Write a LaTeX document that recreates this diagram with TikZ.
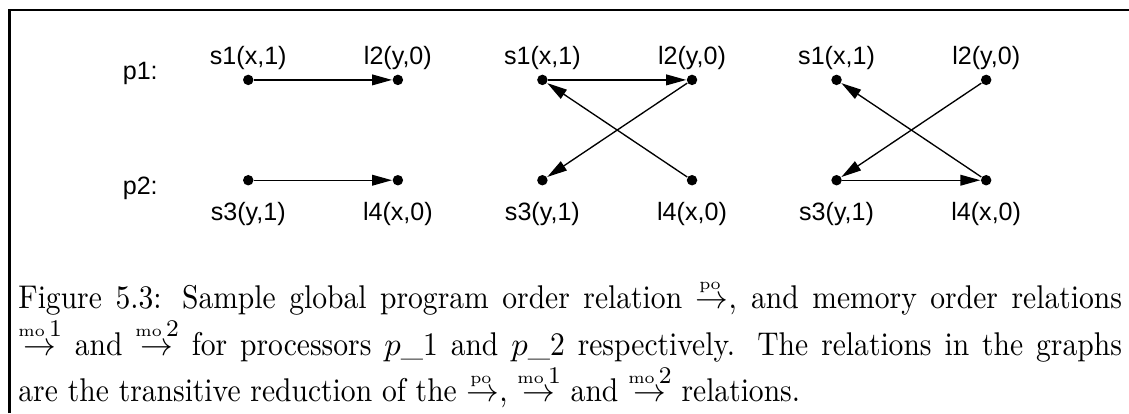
\documentclass[tikz,border=0pt]{standalone}
\usepackage{fontspec}
\usepackage{amsmath}
\newfontfamily\lblfont{Liberation Sans}
\newfontfamily\capfont[FakeStretch=0.9]{Latin Modern Roman}
\usetikzlibrary{arrows.meta}
\usetikzlibrary{positioning}

% order relation arrow with its name on top
\newcommand{\ordrel}[2]{\mathrel{\overset{\mathrm{\scriptscriptstyle #1}\,#2}{\rightarrow}}}

\tikzset{
  ev/.style={circle, fill=black, inner sep=0pt, minimum size=3.5pt},
  lbl/.style={font=\lblfont\fontsize{8.4}{10}\selectfont, inner sep=0pt},
  ord/.style={-{Triangle[length=6.7pt,width=3.6pt]}, line width=0.45pt},
}

\begin{document}
\begin{tikzpicture}
    \useasboundingbox (0,0) rectangle (13.28,-4.86);
    \draw[line width=0.7pt] (0.112,-4.86) -- (0.112,-0.118) -- (13.28,-0.118);

    \node[lbl] (p1) at (1.65,-0.87) {p1:};
    \node[lbl] (p2) at (1.65,-2.22) {p2:};

    % Events of the three graphs
    \foreach \g/\gx in {a/2.92, b/6.38, c/9.84} {
        \node[ev] (s1\g) at (\gx,-0.94) {};
        \node[ev] (l2\g) at (\gx+1.76,-0.94) {};
        \node[ev] (s3\g) at (\gx,-2.12) {};
        \node[ev] (l4\g) at (\gx+1.76,-2.12) {};
        \node[lbl, above=1.2pt of s1\g] (ts1\g) {s1(x,1)};
        \node[lbl, above=1.2pt of l2\g] (tl2\g) {l2(y,0)};
        \node[lbl, below=5.2pt of s3\g] (ts3\g) {s3(y,1)};
        \node[lbl, below=5.2pt of l4\g] (tl4\g) {l4(x,0)};
    }

    % Program order
    \draw[ord] (s1a) -- (l2a);
    \draw[ord] (s3a) -- (l4a);
    % Memory order, processor 1
    \draw[ord] (s1b) -- (l2b);
    \draw[ord] (l2b) -- (s3b);
    \draw[ord] (l4b) -- (s1b);
    % Memory order, processor 2
    \draw[ord] (l4c) -- (s1c);
    \draw[ord] (l2c) -- (s3c);
    \draw[ord] (s3c) -- (l4c);

    \node[anchor=north west, text width=12.98cm, align=justify, inner sep=0pt,
          font=\capfont\fontsize{11}{12.3}\selectfont] (cap) at (0.21,-3.27) {\noindent
        Figure 5.3: Sample global program order relation $\ordrel{po}{}$, and memory order relations\linebreak
        $\ordrel{mo}{1}$ and $\ordrel{mo}{2}$ for processors $p$\_1 and $p$\_2 respectively. The relations in the graphs\linebreak
        are the transitive reduction of the $\ordrel{po}{}$, $\ordrel{mo}{1}$ and $\ordrel{mo}{2}$ relations.};
\end{tikzpicture}
\end{document}
